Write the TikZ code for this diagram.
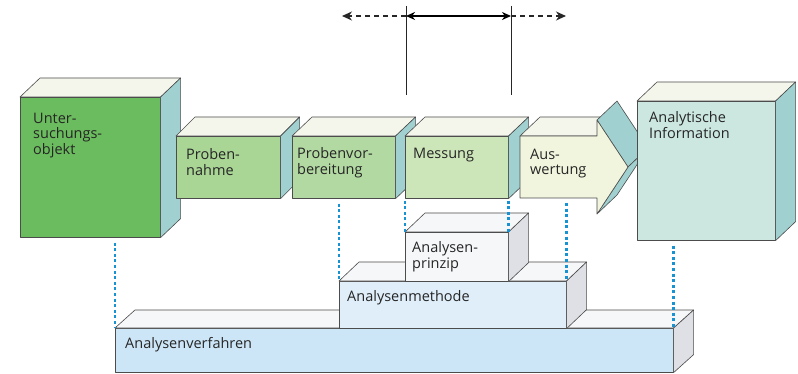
\documentclass[tikz,border=0pt]{standalone}
\usepackage{fontspec}
\setmainfont{Open Sans}
\usetikzlibrary{calc,arrows.meta}
\definecolor{cUnter}{HTML}{6BBC5E}
\definecolor{cNahme}{HTML}{A9D595}
\definecolor{cVorb}{HTML}{B2D9A2}
\definecolor{cMess}{HTML}{CDE6B9}
\definecolor{cAusw}{HTML}{F1F5DD}
\definecolor{cInfo}{HTML}{CCE7E0}
\definecolor{cTop}{HTML}{F4F6EC}
\definecolor{cSide}{HTML}{A0D1D0}
\definecolor{cVerf}{HTML}{CDE6F7}
\definecolor{cMeth}{HTML}{DFEEF9}
\definecolor{cPrin}{HTML}{F6F7F9}
\definecolor{cGTop}{HTML}{F6F7F8}
\definecolor{cGSide}{HTML}{DFE0E5}
\definecolor{cDot}{HTML}{1793D3}
\newcommand\mycube[4]{%
  \draw[face, fill=#2] (#1.north west) -- ++(#4) -- ($(#1.north east)+(#4)$) -- (#1.north east) -- cycle;
  \draw[face, fill=#3] (#1.north east) -- ++(#4) -- ($(#1.south east)+(#4)$) -- (#1.south east) -- cycle;}
\begin{document}
\begin{tikzpicture}[x=1pt,y=-1pt,
  face/.style={draw=black!70, line width=0.6pt, line join=round},
  front/.style={face, inner sep=0pt, anchor=north west},
  lbl/.style={anchor=north west, inner sep=0pt, align=left, text=black!85,
    font=\fontsize{14.5}{15.5}\selectfont},
  dotline/.style={draw=cDot, line width=2.5pt, dash pattern=on 3pt off 2.6pt},
  vline/.style={draw=black!85, line width=1pt},
  solidarr/.style={draw=black, line width=2.2pt, {Stealth[length=9pt,width=8pt]}-{Stealth[length=9pt,width=8pt]}},
  dasharr/.style={draw=black!85, line width=1.2pt, dash pattern=on 5pt off 4pt, -{Stealth[length=10pt,width=9pt]}}
]
\useasboundingbox[fill=white] (0,0) rectangle (798,374);

% ---------- staircase (bottom) ----------
\node[front, fill=cVerf, minimum width=558pt, minimum height=44pt] (verf) at (115,328) {};
\mycube{verf}{cGTop}{cGSide}{20,-18}
\node[lbl] (tverf) at (125,337.5) {Analysenverfahren};

\node[front, fill=cMeth, minimum width=227pt, minimum height=47pt] (meth) at (339,281) {};
\mycube{meth}{cGTop}{cGSide}{20,-19}
\node[lbl] (tmeth) at (347,290.5) {Analysenmethode};

\node[front, fill=cPrin, minimum width=103pt, minimum height=49pt] (prin) at (405,232) {};
\mycube{prin}{cGTop}{cGSide}{20,-19}
\node[lbl] (tprin) at (412,241.5) {Analysen-\\prinzip};

% ---------- pipeline ----------
\node[front, fill=cUnter, minimum width=140pt, minimum height=140pt] (unter) at (20,97) {};
\mycube{unter}{cTop}{cSide}{20,-19}
\node[lbl] (tunter) at (33,112.5) {Unter-\\suchungs-\\objekt};

\node[front, fill=cNahme, minimum width=104pt, minimum height=62pt] (nahme) at (176,136) {};
\mycube{nahme}{cTop}{cSide}{19,-19}
\node[lbl] (tnahme) at (186,148.5) {Proben-\\nahme};

\node[front, fill=cVorb, minimum width=103pt, minimum height=62pt] (vorb) at (292,136) {};
\mycube{vorb}{cTop}{cSide}{20,-19}
\node[lbl] (tvorb) at (297,147.5) {Probenvor-\\bereitung};

\node[front, fill=cMess, minimum width=103pt, minimum height=62pt] (mess) at (405,136) {};
\mycube{mess}{cTop}{cSide}{20,-19}
\node[lbl] (tmess) at (413,147.5) {Messung};

% Auswertung (3D arrow)
\draw[face, fill=cTop] (520,136) -- (540,117) -- (617,117) -- (597,136) -- cycle;
\draw[face, fill=cSide] (597,120) -- (617,101) -- (648,148) -- (628,167) -- cycle;
\draw[face, fill=cSide] (628,167) -- (648,148) -- (617,195) -- (597,214) -- cycle;
\draw[face, fill=cAusw] (520,136) -- (597,136) -- (597,120) -- (628,167) -- (597,214) -- (597,198) -- (520,198) -- cycle;
\coordinate (auswb) at (566,198);
\node[lbl] (tausw) at (530,148.5) {Aus-\\wertung};

\node[front, fill=cInfo, minimum width=138pt, minimum height=139pt] (info) at (637,101) {};
\mycube{info}{cTop}{cSide}{20,-19}
\node[lbl] (tinfo) at (649,111.5) {Analytische\\Information};

% ---------- dotted connectors ----------
\draw[dotline] ([yshift=-5pt]unter.south -| verf.north west) -- (verf.north west);
\draw[dotline] ([yshift=-5pt]vorb.south -| meth.north west) -- (meth.north west);
\draw[dotline] ([yshift=-2pt]mess.south west) -- (prin.north west);
\draw[dotline] ([yshift=-2pt]mess.south east) -- (prin.north east);
\draw[dotline] ([yshift=-5pt]auswb -| meth.north east) -- (meth.north east);
\draw[dotline] ([yshift=-5pt]info.south -| verf.north east) -- (verf.north east);

% ---------- top arrows ----------
\coordinate (lt) at (406,6);
\coordinate (lb) at (406,95);
\coordinate (rt) at (511,6);
\coordinate (rb) at (511,95);
\coordinate (la) at (406,16);
\coordinate (ra) at (511,16);
\coordinate (ld) at (342,16);
\coordinate (rd) at (566,16);
\draw[vline] (lt) -- (lb);
\draw[vline] (rt) -- (rb);
\draw[solidarr] (la) -- (ra);
\draw[dasharr] (la) -- (ld);
\draw[dasharr] (ra) -- (rd);
\end{tikzpicture}
\end{document}
